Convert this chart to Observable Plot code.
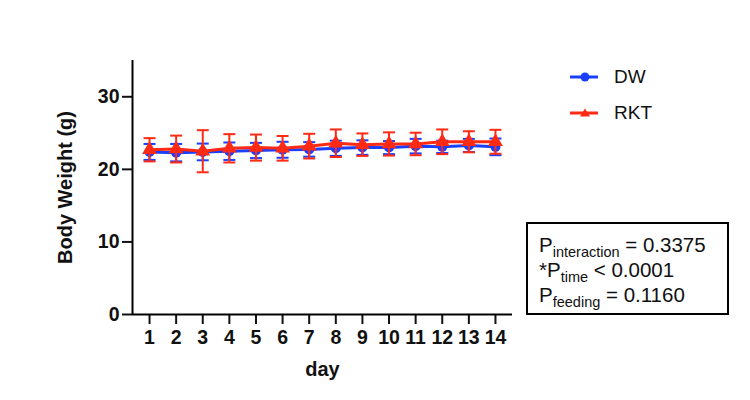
<!DOCTYPE html>
<html>
<head>
<meta charset="utf-8">
<script src="https://cdn.jsdelivr.net/npm/d3@7"></script>
<script src="https://cdn.jsdelivr.net/npm/@observablehq/plot@0.6"></script>
<style>
  body { margin: 0; background: #fff; }
  #wrap { position: relative; width: 750px; height: 400px; font-family: Arial, "Liberation Sans", sans-serif; }
  .leg { position: absolute; left: 568px; font-size: 19px; color: #111; display: flex; align-items: center; }
  .leg svg { margin-right: 14px; }
  #pbox { position: absolute; left: 526px; top: 222px; width: 199px; height: 89px; border: 2px solid #000;
          box-sizing: content-box; font-size: 20.5px; color: #111; line-height: 25px; padding-top: 0; }
  #pbox div { position: absolute; left: 11px; white-space: nowrap; }
  #pbox sub { font-size: 14.5px; vertical-align: -5px; line-height: 0; }
</style>
</head>
<body>
<div id="wrap"></div>
<script>
const days = [1, 2, 3, 4, 5, 6, 7, 8, 9, 10, 11, 12, 13, 14];
const dwMean = [22.4, 22.3, 22.4, 22.5, 22.6, 22.7, 22.75, 22.9, 23.0, 23.0, 23.2, 23.1, 23.3, 23.1];
const dwSD   = [1.1, 1.2, 1.15, 1.2, 1.05, 1.1, 1.0, 1.05, 1.0, 0.9, 1.0, 0.85, 0.9, 1.15];
const rktMean = [22.7, 22.8, 22.5, 22.9, 23.0, 22.9, 23.2, 23.6, 23.4, 23.5, 23.5, 23.8, 23.8, 23.8];
const rktSD   = [1.6, 1.85, 2.9, 1.95, 1.8, 1.7, 1.7, 1.9, 1.55, 1.6, 1.55, 1.7, 1.45, 1.65];
const yTicks = [0, 10, 20, 30];
const groups = ["DW", "RKT"];
const colors = ["#1A3FFF", "#FF2A14"];

const dw = days.map((d, i) => ({day: d, mean: dwMean[i], sd: dwSD[i]}));
const rkt = days.map((d, i) => ({day: d, mean: rktMean[i], sd: rktSD[i]}));

const xDomain = [0.36, 14.64];
const yDomain = [0, 35];

const cap = {
  draw(ctx, size) {
    const w = Math.sqrt(size / Math.PI);
    ctx.moveTo(-w, 0);
    ctx.lineTo(w, 0);
  }
};

function series(rows, color, symbol, r) {
  return [
    Plot.ruleX(rows, {x: "day", y1: d => d.mean - d.sd, y2: d => d.mean + d.sd, stroke: color, strokeWidth: 2}),
    Plot.dot(rows, {x: "day", y: d => d.mean + d.sd, symbol: cap, r: 6, stroke: color, fill: "none", strokeWidth: 2}),
    Plot.dot(rows, {x: "day", y: d => d.mean - d.sd, symbol: cap, r: 6, stroke: color, fill: "none", strokeWidth: 2}),
    Plot.line(rows, {x: "day", y: "mean", stroke: color, strokeWidth: 3}),
    Plot.dot(rows, {x: "day", y: "mean", symbol, r, fill: color, stroke: "none"})
  ];
}

const chart = Plot.plot({
  width: 750,
  height: 400,
  marginLeft: 132,
  marginRight: 238,
  marginTop: 60,
  marginBottom: 86,
  style: {fontFamily: 'Arial, "Liberation Sans", sans-serif', color: "#111", background: "white"},
  x: {domain: xDomain, label: null},
  y: {domain: yDomain, label: null},
  marks: [
    Plot.axisX({ticks: days, tickFormat: d => String(d), tickSize: 10, tickPadding: 6, strokeWidth: 2,
                fontSize: 19.5, fontWeight: "bold", label: null}),
    Plot.axisY({ticks: yTicks, tickSize: 10, tickPadding: 3, strokeWidth: 2,
                fontSize: 19.5, fontWeight: "bold", label: null}),
    Plot.ruleY([yDomain[0]], {stroke: "#000", strokeWidth: 2}),
    Plot.ruleX([xDomain[0]], {y1: yDomain[0], y2: yDomain[1], stroke: "#000", strokeWidth: 2}),
    ...series(dw, colors[0], "circle", 5),
    ...series(rkt, colors[1], "triangle", 5.5),
    Plot.text(["day"], {frameAnchor: "bottom", dy: 55.5, textAnchor: "middle", lineAnchor: "middle",
                        fontSize: 20, fontWeight: "bold", fill: "#111"}),
    Plot.text(["Body Weight (g)"], {frameAnchor: "left", dx: -66.5, rotate: -90, textAnchor: "middle", lineAnchor: "middle",
                                    fontSize: 20, fontWeight: "bold", fill: "#111"})
  ]
});

const wrap = document.getElementById("wrap");
wrap.appendChild(chart);

// legend
const legendTops = [64, 100];
groups.forEach((g, i) => {
  const el = document.createElement("div");
  el.className = "leg";
  el.style.top = legendTops[i] + "px";
  const sym = i === 0
    ? `<circle cx="17" cy="13" r="4.5" fill="${colors[i]}"/>`
    : `<path d="M17,8.5 L22,16.5 L12,16.5 Z" fill="${colors[i]}"/>`;
  el.innerHTML = `<svg width="32" height="26"><line x1="2" x2="30" y1="13" y2="13" stroke="${colors[i]}" stroke-width="3"/>${sym}</svg><span>${g}</span>`;
  wrap.appendChild(el);
});

// statistics box
const pLines = [
  ["P", "interaction", " = 0.3375"],
  ["*P", "time", " &lt; 0.0001"],
  ["P", "feeding", " = 0.1160"]
];
const box = document.createElement("div");
box.id = "pbox";
pLines.forEach((l, i) => {
  const d = document.createElement("div");
  d.style.top = (8 + i * 25) + "px";
  d.innerHTML = `${l[0]}<sub>${l[1]}</sub>${l[2]}`;
  box.appendChild(d);
});
wrap.appendChild(box);
</script>
</body>
</html>
